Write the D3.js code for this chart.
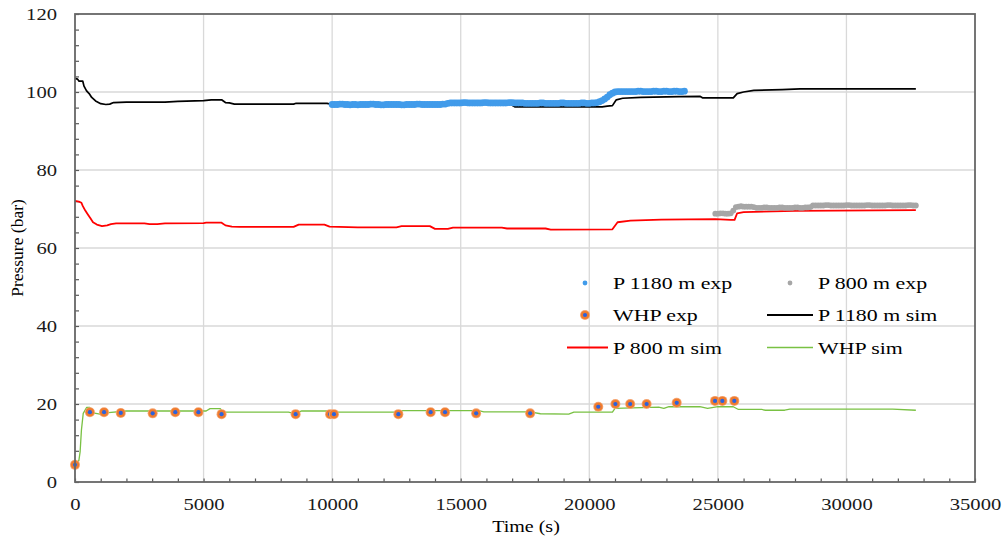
<!DOCTYPE html>
<html>
<head>
<meta charset="utf-8">
<script src="https://cdn.jsdelivr.net/npm/d3@7"></script>
<style>
  body { margin: 0; background: #fff; }
  svg { display: block; }
</style>
</head>
<body>
<div id="main"></div>
<script>
const Width = 1005, Height = 538;

// series, [time (s), pressure (bar)]
const p1180Sim = [[0,103.5],[100,103.3],[150,102.8],[300,102.8],[350,101.5],[450,100.3],[550,99.6],[650,98.6],[800,97.7],[1000,97.0],[1200,96.8],[1350,96.9],[1500,97.3],[2000,97.4],[3500,97.4],[4000,97.6],[5000,97.8],[5300,98.0],[5700,98.0],[5850,97.3],[6000,97.2],[6200,96.9],[8500,96.9],[8600,97.1],[9800,97.1],[10000,96.8],[14400,96.8],[14500,97.0],[16900,97.0],[17100,96.2],[20500,96.2],[20700,96.4],[20900,96.5],[21050,98.0],[21300,98.4],[22000,98.6],[23500,98.8],[24300,98.9],[24400,98.5],[25600,98.5],[25750,99.6],[26000,100.0],[26400,100.4],[27500,100.6],[28200,100.8],[32700,100.8]];

const p800Sim = [[0,72.1],[150,71.9],[250,71.6],[300,70.8],[400,69.6],[500,68.6],[600,67.6],[700,66.6],[850,66.0],[1050,65.6],[1250,65.8],[1400,66.1],[1600,66.3],[2700,66.3],[2900,66.1],[3200,66.1],[3500,66.3],[5000,66.4],[5100,66.5],[5700,66.5],[5850,65.8],[6100,65.5],[6400,65.4],[8500,65.4],[8700,66.0],[9700,66.0],[9900,65.5],[11000,65.3],[12500,65.3],[12700,65.6],[13800,65.6],[14000,64.9],[14500,64.9],[14700,65.2],[16600,65.2],[16800,65.0],[18300,65.0],[18500,64.7],[20900,64.8],[21100,66.6],[21600,67.0],[22800,67.3],[24900,67.4],[25500,67.2],[25650,67.2],[25750,68.9],[26000,69.2],[28000,69.5],[32700,69.7]];

const whpSim = [[0,4.4],[150,5.5],[200,7.8],[250,13.3],[320,17.6],[450,19.1],[580,19.1],[650,17.8],[970,17.4],[1300,17.8],[2000,18.2],[5100,18.2],[5250,18.8],[5650,18.8],[5750,17.9],[8300,17.9],[8500,17.6],[8800,18.2],[9900,18.2],[10050,17.9],[12600,17.9],[12750,18.3],[15700,18.3],[15900,18.0],[17700,18.0],[18100,17.5],[19200,17.4],[19400,17.9],[20900,17.9],[21000,18.9],[22700,19.2],[22900,18.9],[23100,19.3],[24300,19.3],[24600,18.9],[25000,19.3],[25600,19.3],[25800,18.6],[26700,18.6],[26850,18.4],[27600,18.4],[27800,18.7],[31800,18.7],[32700,18.4]];

const whpExp = [[0,4.4],[580,17.9],[1130,17.9],[1780,17.7],[3020,17.6],[3900,17.9],[4800,17.9],[5700,17.4],[8580,17.4],[9920,17.4],[10070,17.4],[12575,17.4],[13830,17.9],[14390,17.9],[15600,17.6],[17700,17.6],[20350,19.3],[21015,20.0],[21590,20.0],[22230,20.0],[23400,20.3],[24890,20.8],[25175,20.8],[25640,20.8]];

const p1180Exp = [
  [10000,96.8],[10100,96.8],[10200,96.8],[10300,96.9],[10400,96.9],[10500,96.8],[10600,96.8],[10700,96.7],[10800,96.8],[10900,96.8],
  [11000,96.7],[11100,96.8],[11200,96.8],[11300,96.8],[11400,96.8],[11500,96.9],[11600,96.9],[11700,96.8],[11800,96.8],[11900,96.7],
  [12000,96.7],[12100,96.8],[12200,96.8],[12300,96.8],[12400,96.8],[12500,96.8],[12600,96.8],[12700,96.7],[12800,96.7],[12900,96.8],
  [13000,96.8],[13100,96.8],[13200,96.8],[13300,96.9],[13400,96.9],[13500,96.8],[13600,96.8],[13700,96.8],[13800,96.8],[13900,96.8],
  [14000,96.8],[14100,96.8],[14200,96.8],[14300,96.9],[14400,96.9],[14500,97.1],[14600,97.2],[14700,97.2],[14800,97.2],[14900,97.2],
  [15000,97.2],[15100,97.3],[15200,97.3],[15300,97.2],[15400,97.2],[15500,97.2],[15600,97.2],[15700,97.2],[15800,97.2],[15900,97.3],
  [16000,97.3],[16100,97.2],[16200,97.2],[16300,97.2],[16400,97.2],[16500,97.2],[16600,97.2],[16700,97.2],[16800,97.2],[16900,97.3],
  [17000,97.3],[17100,97.2],[17200,97.2],[17300,97.2],[17400,97.2],[17500,97.1],[17600,97.1],[17700,97.1],[17800,97.1],[17900,97.1],
  [18000,97.1],[18100,97.2],[18200,97.2],[18300,97.1],[18400,97.1],[18500,97.1],[18600,97.1],[18700,97.1],[18800,97.1],[18900,97.2],
  [19000,97.2],[19100,97.1],[19200,97.1],[19300,97.1],[19400,97.1],[19500,97.1],[19600,97.1],[19700,97.2],[19800,97.2],[19900,97.1],
  [20000,97.1],[20100,97.2],[20200,97.2],[20300,97.3],[20400,97.5],[20500,97.8],[20600,98.2],[20700,98.7],[20800,99.3],[20900,99.7],
  [21000,100.0],[21100,100.1],[21200,100.1],[21300,100.1],[21400,100.1],[21500,100.1],[21600,100.1],[21700,100.1],[21800,100.1],[21900,100.2],
  [22000,100.2],[22100,100.1],[22200,100.1],[22300,100.1],[22400,100.1],[22500,100.2],[22600,100.2],[22700,100.1],[22800,100.1],[22900,100.2],
  [23000,100.2],[23100,100.1],[23200,100.1],[23300,100.2],[23400,100.2],[23500,100.1],[23600,100.1],[23700,100.2]
];

const p800Exp = [
  [24900,68.8],[25000,68.8],[25100,68.9],[25200,68.9],[25300,68.8],[25400,68.8],[25500,68.9],[25600,69.6],[25700,70.5],[25800,70.6],
  [25900,70.7],[26000,70.6],[26100,70.6],[26200,70.6],[26300,70.6],[26400,70.5],[26500,70.3],[26600,70.3],[26700,70.3],[26800,70.4],
  [26900,70.4],[27000,70.3],[27100,70.3],[27200,70.3],[27300,70.3],[27400,70.4],[27500,70.4],[27600,70.3],[27700,70.3],[27800,70.3],
  [27900,70.3],[28000,70.4],[28100,70.4],[28200,70.3],[28300,70.3],[28400,70.4],[28500,70.4],[28600,70.5],[28700,70.9],[28800,70.9],
  [28900,70.9],[29000,70.9],[29100,70.9],[29200,71.0],[29300,71.0],[29400,70.9],[29500,70.9],[29600,70.9],[29700,70.9],[29800,70.9],
  [29900,70.9],[30000,71.0],[30100,71.0],[30200,70.9],[30300,70.9],[30400,70.9],[30500,70.9],[30600,70.9],[30700,70.9],[30800,71.0],
  [30900,71.0],[31000,70.9],[31100,70.9],[31200,70.9],[31300,70.9],[31400,70.9],[31500,70.9],[31600,71.0],[31700,71.0],[31800,70.9],
  [31900,70.9],[32000,70.9],[32100,70.9],[32200,70.9],[32300,70.9],[32400,71.0],[32500,71.0],[32600,70.9],[32700,70.9]
];

const xTicks = d3.range(0, 35001, 1000);
const xLabels = d3.range(0, 35001, 5000);
const yTicks = d3.range(0, 121, 4);
const yLabels = d3.range(0, 121, 20);

const legendItems = [
  {label: "P 1180 m exp", kind: "dot", color: "#419bea"},
  {label: "P 800 m exp", kind: "dot", color: "#a6a6a6"},
  {label: "WHP exp", kind: "whp"},
  {label: "P 1180 m sim", kind: "line", color: "#000000"},
  {label: "P 800 m sim", kind: "line", color: "#ff0000"},
  {label: "WHP sim", kind: "line", color: "#79c143"}
];

const serif = "'Liberation Serif', 'Times New Roman', serif";
const stretch = 1.25;
const margin = {left: 75, top: 14, right: 30, bottom: 56};

const svg = d3.select("#main").append("svg")
    .attr("width", Width)
    .attr("height", Height);

const x = d3.scaleLinear().domain([0, 35000]).range([margin.left, Width - margin.right]);
const y = d3.scaleLinear().domain([0, 120]).range([Height - margin.bottom, margin.top]);

// grid
svg.append("g").selectAll("line").data(xLabels.slice(1, -1)).enter().append("line")
    .attr("x1", d => x(d)).attr("x2", d => x(d))
    .attr("y1", y(0)).attr("y2", y(120))
    .attr("stroke", "#d9d9d9").attr("stroke-width", 1.3);
svg.append("g").selectAll("line").data(yLabels.slice(1, -1)).enter().append("line")
    .attr("x1", x(0)).attr("x2", x(35000))
    .attr("y1", d => y(d)).attr("y2", d => y(d))
    .attr("stroke", "#d9d9d9").attr("stroke-width", 1.3);

// axes, ticks pointing inward
const gx = svg.append("g")
    .attr("transform", `translate(0,${y(0)})`)
    .call(d3.axisBottom(x).tickValues(xTicks).tickSize(-3.5).tickSizeOuter(0).tickPadding(16)
        .tickFormat(d => d % 5000 === 0 ? d : ""));
const gy = svg.append("g")
    .attr("transform", `translate(${x(0)},0)`)
    .call(d3.axisLeft(y).tickValues(yTicks).tickSize(-4).tickSizeOuter(0).tickPadding(14.4)
        .tickFormat(d => d % 20 === 0 ? d : ""));
[gx, gy].forEach(g => {
  g.attr("color", "#595959").attr("font-family", serif).attr("font-size", 16.5);
  g.select(".domain").remove();
  g.selectAll(".tick line").attr("stroke-width", 1.2);
  g.selectAll("text").attr("fill", "#1a1a1a").attr("transform", `scale(${stretch},1)`);
});

// simulated lines
const line = d3.line().x(d => x(d[0])).y(d => y(d[1]));
const sims = [
  {data: p1180Sim, color: "#000000", w: 1.7},
  {data: p800Sim, color: "#ff0000", w: 1.8},
  {data: whpSim, color: "#79c143", w: 1.3}
];
svg.append("g").selectAll("path").data(sims).enter().append("path")
    .attr("d", d => line(d.data))
    .attr("fill", "none")
    .attr("stroke", d => d.color)
    .attr("stroke-width", d => d.w)
    .attr("stroke-linejoin", "round");

// measured points
svg.append("g").selectAll("circle").data(p1180Exp).enter().append("circle")
    .attr("cx", d => x(d[0])).attr("cy", d => y(d[1]))
    .attr("r", 3.4).attr("fill", "#419bea");
svg.append("g").selectAll("circle").data(p800Exp).enter().append("circle")
    .attr("cx", d => x(d[0])).attr("cy", d => y(d[1]))
    .attr("r", 2.9).attr("fill", "#a6a6a6");

function whpMarker(g, cx, cy) {
  g.append("circle").attr("cx", cx).attr("cy", cy).attr("r", 5).attr("fill", "#f5a470");
  g.append("circle").attr("cx", cx).attr("cy", cy).attr("r", 4.1).attr("fill", "#ef7b2e");
  g.append("circle").attr("cx", cx).attr("cy", cy).attr("r", 2.1).attr("fill", "#2c62dd");
}
const gw = svg.append("g");
whpExp.forEach(d => whpMarker(gw, x(d[0]), y(d[1])));

// frame
svg.append("rect")
    .attr("x", x(0)).attr("y", y(120))
    .attr("width", x(35000) - x(0)).attr("height", y(0) - y(120))
    .attr("fill", "none").attr("stroke", "#666666").attr("stroke-width", 1.8);

function stretchedText(px, py, txt, size, anchor) {
  return svg.append("text")
      .attr("transform", `translate(${px},${py}) scale(${stretch},1)`)
      .attr("font-family", serif).attr("font-size", size)
      .attr("text-anchor", anchor || "start").attr("fill", "#000")
      .text(txt);
}

// axis titles
stretchedText(526, 531.5, "Time (s)", 16, "middle");
svg.append("text")
    .attr("transform", "translate(23,248) rotate(-90)")
    .attr("font-family", serif).attr("font-size", 17.5)
    .attr("text-anchor", "middle").attr("fill", "#000")
    .text("Pressure (bar)");

// legend, two columns by three rows
const colX = [613, 818], rowY = [283, 315, 347.5];
const lineStart = [567, 767];
legendItems.forEach((d, i) => {
  const c = i % 2, r = Math.floor(i / 2);
  const cy = rowY[r];
  if (d.kind === "dot") {
    svg.append("circle").attr("cx", colX[c] - 28).attr("cy", cy).attr("r", 2.4).attr("fill", d.color);
  } else if (d.kind === "whp") {
    whpMarker(svg, colX[c] - 28, cy);
  } else {
    svg.append("line").attr("x1", lineStart[c]).attr("x2", colX[c] - 5)
        .attr("y1", cy).attr("y2", cy)
        .attr("stroke", d.color).attr("stroke-width", d.color === "#79c143" ? 1.3 : 1.8);
  }
  stretchedText(colX[c], cy + 6, d.label, 17.5);
});
</script>
</body>
</html>
